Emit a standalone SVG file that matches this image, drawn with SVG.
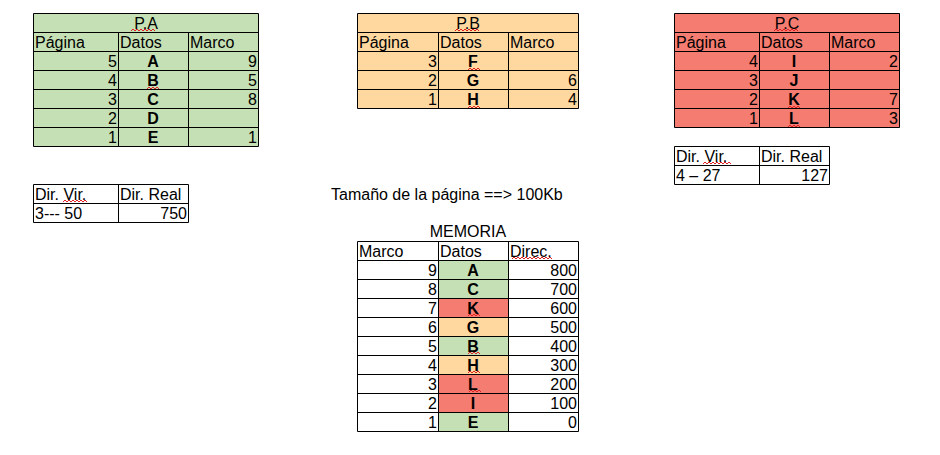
<svg xmlns="http://www.w3.org/2000/svg" width="940" height="455" viewBox="0 0 940 455">
<style>
text{font-family:"Liberation Sans",Arial,sans-serif;font-size:16px;fill:#000}
.b{font-weight:bold;text-anchor:middle}
.r{text-anchor:end}
.m{text-anchor:middle}
.g{fill:#c5e0b4}
.o{fill:#ffd8a0}
.red{fill:#f47c70}
.ln{stroke:#000;stroke-width:1;fill:none}
.sq{stroke:#e02020;stroke-width:1;fill:none}
</style>
<rect width="940" height="455" fill="#fff"/>

<g id="PA">
<rect class="g" x="33.5" y="13.5" width="225" height="133"/>
<path class="ln" d="M33.5 13.5H258.5V146.5H33.5Z M33.5 32.5H258.5 M33.5 51.5H258.5 M33.5 70.5H258.5 M33.5 89.5H258.5 M33.5 108.5H258.5 M33.5 127.5H258.5 M118.5 32.5V146.5 M188.5 32.5V146.5"/>
<text class="m" x="146" y="29">P.A</text>
<text x="35" y="47.5">Página</text><text x="120" y="47.5">Datos</text><text x="190" y="47.5">Marco</text>
<text class="r" x="117" y="66.5">5</text><text class="b" x="153" y="66.5">A</text><text class="r" x="257" y="66.5">9</text>
<text class="r" x="117" y="85.5">4</text><text class="b" x="153" y="85.5">B</text><text class="r" x="257" y="85.5">5</text>
<text class="r" x="117" y="104.5">3</text><text class="b" x="153" y="104.5">C</text><text class="r" x="257" y="104.5">8</text>
<text class="r" x="117" y="123.5">2</text><text class="b" x="153" y="123.5">D</text>
<text class="r" x="117" y="142.5">1</text><text class="b" x="153" y="142.5">E</text><text class="r" x="257" y="142.5">1</text>
<path class="sq" d="M131 31 l2 -2 l2 2 l2 -2 l2 2 l2 -2 l2 2 l2 -2 l2 2 l2 -2 l2 2 l2 -2 l2 2"/>
<path class="sq" d="M147 89 l2 -2 l2 2 l2 -2 l2 2 l2 -2 l2 2"/>
</g>

<g id="PB">
<rect class="o" x="357.5" y="13.5" width="221" height="95"/>
<path class="ln" d="M357.5 13.5H578.5V108.5H357.5Z M357.5 32.5H578.5 M357.5 51.5H578.5 M357.5 70.5H578.5 M357.5 89.5H578.5 M438.5 32.5V108.5 M508.5 32.5V108.5"/>
<text class="m" x="468" y="29">P.B</text>
<text x="359" y="47.5">Página</text><text x="440" y="47.5">Datos</text><text x="510" y="47.5">Marco</text>
<text class="r" x="437" y="66.5">3</text><text class="b" x="473" y="66.5">F</text>
<text class="r" x="437" y="85.5">2</text><text class="b" x="473" y="85.5">G</text><text class="r" x="577" y="85.5">6</text>
<text class="r" x="437" y="104.5">1</text><text class="b" x="473" y="104.5">H</text><text class="r" x="577" y="104.5">4</text>
<path class="sq" d="M455 31 l2 -2 l2 2 l2 -2 l2 2 l2 -2 l2 2 l2 -2 l2 2 l2 -2 l2 2 l2 -2 l2 2"/>
<path class="sq" d="M468 70 l2 -2 l2 2 l2 -2 l2 2 l2 -2 l2 2"/>
<path class="sq" d="M468 108 l2 -2 l2 2 l2 -2 l2 2 l2 -2 l2 2"/>
</g>

<g id="PC">
<rect class="red" x="674.5" y="13.5" width="225" height="114"/>
<path class="ln" d="M674.5 13.5H899.5V127.5H674.5Z M674.5 32.5H899.5 M674.5 51.5H899.5 M674.5 70.5H899.5 M674.5 89.5H899.5 M674.5 108.5H899.5 M759.5 32.5V127.5 M829.5 32.5V127.5"/>
<text class="m" x="787" y="29">P.C</text>
<text x="676" y="47.5">Página</text><text x="761" y="47.5">Datos</text><text x="831" y="47.5">Marco</text>
<text class="r" x="758" y="66.5">4</text><text class="b" x="794" y="66.5">I</text><text class="r" x="898" y="66.5">2</text>
<text class="r" x="758" y="85.5">3</text><text class="b" x="794" y="85.5">J</text>
<text class="r" x="758" y="104.5">2</text><text class="b" x="794" y="104.5">K</text><text class="r" x="898" y="104.5">7</text>
<text class="r" x="758" y="123.5">1</text><text class="b" x="794" y="123.5">L</text><text class="r" x="898" y="123.5">3</text>
<path class="sq" d="M774 31 l2 -2 l2 2 l2 -2 l2 2 l2 -2 l2 2 l2 -2 l2 2 l2 -2 l2 2 l2 -2 l2 2"/>
<path class="sq" d="M788 108 l2 -2 l2 2 l2 -2 l2 2 l2 -2 l2 2"/>
<path class="sq" d="M788 127 l2 -2 l2 2 l2 -2 l2 2 l2 -2 l2 2"/>
</g>

<g id="DirC">
<path class="ln" d="M674.5 146.5H829.5V184.5H674.5Z M674.5 165.5H829.5 M759.5 146.5V184.5"/>
<text x="676" y="161.5">Dir. Vir.</text><text x="761" y="161.5">Dir. Real</text>
<text x="676" y="180.5">4 – 27</text><text class="r" x="828" y="180.5">127</text>
<path class="sq" d="M703 164 l2 -2 l2 2 l2 -2 l2 2 l2 -2 l2 2 l2 -2 l2 2 l2 -2 l2 2 l2 -2 l2 2 l2 -2 l2 2"/>
</g>

<g id="DirA">
<path class="ln" d="M33.5 184.5H188.5V222.5H33.5Z M33.5 203.5H188.5 M118.5 184.5V222.5"/>
<text x="35" y="199.5">Dir. Vir.</text><text x="120" y="199.5">Dir. Real</text>
<text x="35" y="218.5">3--- 50</text><text class="r" x="187" y="218.5">750</text>
<path class="sq" d="M63 202 l2 -2 l2 2 l2 -2 l2 2 l2 -2 l2 2 l2 -2 l2 2 l2 -2 l2 2 l2 -2 l2 2"/>
</g>

<g id="tamano">
<text x="331" y="200">Tamaño de la página ==&gt; 100Kb</text>
</g>

<g id="MEMORIA">
<text class="m" x="468" y="237">MEMORIA</text>
<rect class="g" x="438.5" y="260.5" width="70" height="38"/>
<rect class="red" x="438.5" y="298.5" width="70" height="19"/>
<rect class="o" x="438.5" y="317.5" width="70" height="19"/>
<rect class="g" x="438.5" y="336.5" width="70" height="19"/>
<rect class="o" x="438.5" y="355.5" width="70" height="19"/>
<rect class="red" x="438.5" y="374.5" width="70" height="38"/>
<rect class="g" x="438.5" y="412.5" width="70" height="19"/>
<path class="ln" d="M357.5 241.5H578.5V431.5H357.5Z M357.5 260.5H578.5 M357.5 279.5H578.5 M357.5 298.5H578.5 M357.5 317.5H578.5 M357.5 336.5H578.5 M357.5 355.5H578.5 M357.5 374.5H578.5 M357.5 393.5H578.5 M357.5 412.5H578.5 M438.5 241.5V431.5 M508.5 241.5V431.5"/>
<text x="359" y="256.5">Marco</text><text x="440" y="256.5">Datos</text><text x="510" y="256.5">Direc.</text>
<text class="r" x="437" y="275.5">9</text><text class="b" x="473" y="275.5">A</text><text class="r" x="577" y="275.5">800</text>
<text class="r" x="437" y="294.5">8</text><text class="b" x="473" y="294.5">C</text><text class="r" x="577" y="294.5">700</text>
<text class="r" x="437" y="313.5">7</text><text class="b" x="473" y="313.5">K</text><text class="r" x="577" y="313.5">600</text>
<text class="r" x="437" y="332.5">6</text><text class="b" x="473" y="332.5">G</text><text class="r" x="577" y="332.5">500</text>
<text class="r" x="437" y="351.5">5</text><text class="b" x="473" y="351.5">B</text><text class="r" x="577" y="351.5">400</text>
<text class="r" x="437" y="370.5">4</text><text class="b" x="473" y="370.5">H</text><text class="r" x="577" y="370.5">300</text>
<text class="r" x="437" y="389.5">3</text><text class="b" x="473" y="389.5">L</text><text class="r" x="577" y="389.5">200</text>
<text class="r" x="437" y="408.5">2</text><text class="b" x="473" y="408.5">I</text><text class="r" x="577" y="408.5">100</text>
<text class="r" x="437" y="427.5">1</text><text class="b" x="473" y="427.5">E</text><text class="r" x="577" y="427.5">0</text>
<path class="sq" d="M512 259 l2 -2 l2 2 l2 -2 l2 2 l2 -2 l2 2 l2 -2 l2 2 l2 -2 l2 2 l2 -2 l2 2 l2 -2 l2 2 l2 -2 l2 2 l2 -2 l2 2 l2 -2 l2 2"/>
<path class="sq" d="M468 316 l2 -2 l2 2 l2 -2 l2 2 l2 -2 l2 2"/>
<path class="sq" d="M468 354 l2 -2 l2 2 l2 -2 l2 2 l2 -2 l2 2"/>
<path class="sq" d="M468 373 l2 -2 l2 2 l2 -2 l2 2 l2 -2 l2 2"/>
<path class="sq" d="M469 392 l2 -2 l2 2 l2 -2 l2 2 l2 -2 l2 2"/>
</g>
</svg>
